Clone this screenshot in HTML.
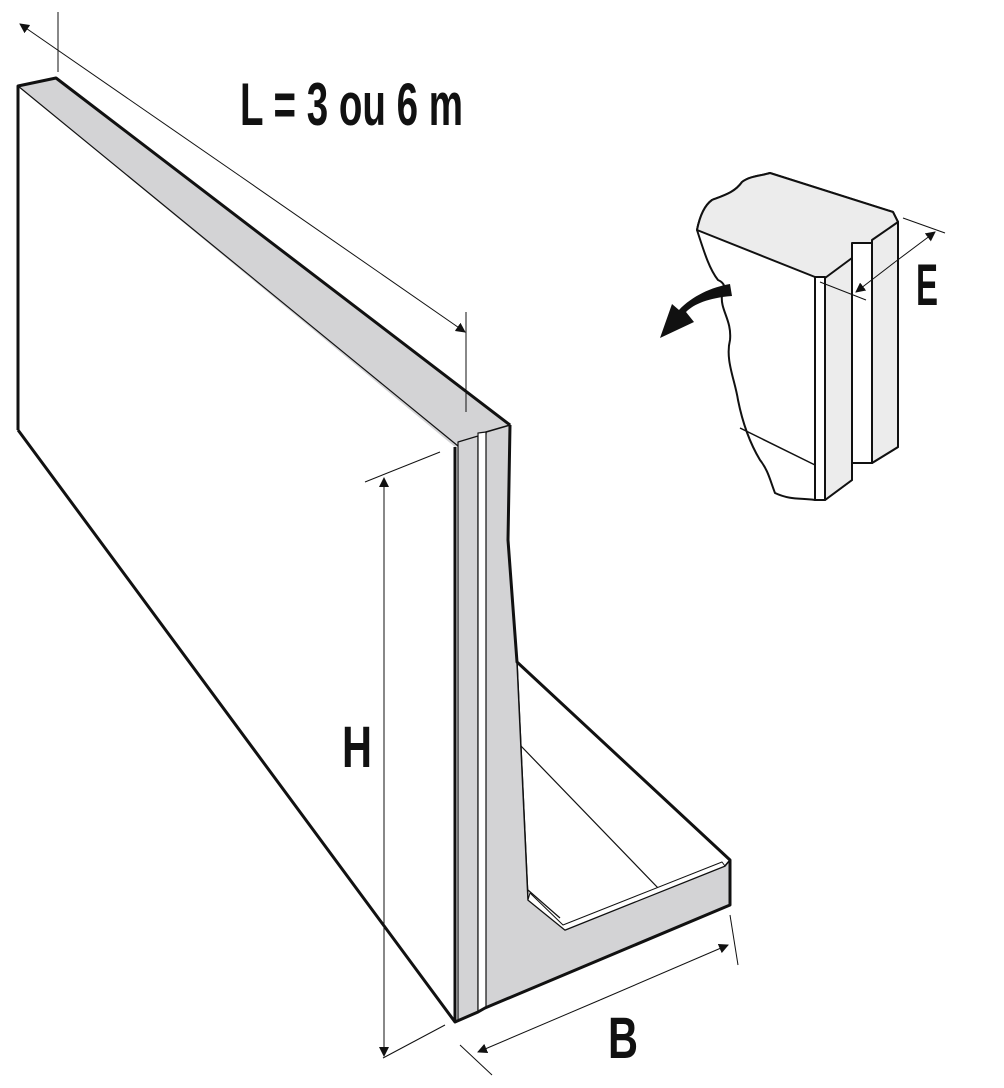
<!DOCTYPE html>
<html><head><meta charset="utf-8"><style>
html,body{margin:0;padding:0;background:#fff;}
svg{display:block;}
text{font-family:"Liberation Sans Narrow","Liberation Sans",sans-serif;fill:#111;font-weight:bold;}
</style></head><body>
<svg width="1004" height="1088" viewBox="0 0 1004 1088" xmlns="http://www.w3.org/2000/svg">
<defs>
<marker id="a" markerWidth="10" markerHeight="10" refX="9" refY="5" orient="auto" markerUnits="userSpaceOnUse" viewBox="0 0 10 10"><path d="M0,0 L10,5 L0,10 z" fill="#111"/></marker>
</defs>
<g stroke="#111" stroke-linejoin="round">
<!-- front face -->
<polygon points="18,86 455,447 455,1022 18,430" fill="#fff" stroke="none"/>
<!-- top strip -->
<polygon points="18,86 56,78 510,425 488,432 478,432 476,438 462,445 455,447" fill="#d3d3d5" stroke="none"/>
<line x1="18" y1="86" x2="458" y2="446" stroke-width="1.2"/>
<!-- inner base region -->
<polygon points="517,662 730,860 725,866 565,930 528,900" fill="#fff" stroke-width="1.5"/>
<line x1="520" y1="745" x2="660" y2="890" stroke-width="1.2"/>
<polyline points="528,890 560,918" fill="none" stroke-width="1.2"/>
<!-- stem & base gray -->
<polygon points="486,432 510,425 508,540 517,662 528,900 565,930 725,866 730,860 730,905 485,1008 485,445" fill="#d3d3d5" stroke-width="1.5"/>
<polygon points="528,900 565,930 725,866 722,862 563,925 530,893" fill="#fff" stroke-width="1"/>
<!-- vertical strips -->
<polygon points="458,442 478,436 478,1012 458,1020" fill="#d3d3d5" stroke-width="1.2"/>
<polygon points="478,433 486,432 486,1008 478,1012" fill="#fff" stroke-width="1.2"/>
<!-- thick outlines -->
<polyline points="18,430 18,86 56,78 510,425" fill="none" stroke-width="3"/>
<line x1="455" y1="447" x2="455" y2="1022" stroke-width="3"/>
<polyline points="510,425 508,540 517,662 730,860 730,905 485,1008 478,1012 455,1022 18,430" fill="none" stroke-width="3"/>
</g>
<!-- dimension lines -->
<g stroke="#111" stroke-width="1" fill="none">
<line x1="58" y1="12" x2="58" y2="72"/>
<line x1="466" y1="312" x2="466" y2="412"/>
<line x1="240" y1="176" x2="465" y2="332" marker-end="url(#a)"/>
<line x1="240" y1="176" x2="20" y2="24" marker-end="url(#a)"/>
<line x1="365" y1="482" x2="440" y2="452"/>
<line x1="383" y1="1058" x2="445" y2="1025"/>
<line x1="384" y1="700" x2="384" y2="478" marker-end="url(#a)"/>
<line x1="384" y1="700" x2="384" y2="1056" marker-end="url(#a)"/>
<line x1="460" y1="1045" x2="492" y2="1075"/>
<line x1="730" y1="915" x2="738" y2="965"/>
<line x1="600" y1="1000" x2="478" y2="1052" marker-end="url(#a)"/>
<line x1="600" y1="1000" x2="728" y2="945" marker-end="url(#a)"/>
</g>
<text x="240" y="125" font-size="60" textLength="223" lengthAdjust="spacingAndGlyphs">L = 3 ou 6 m</text>
<text x="342" y="767" font-size="58" textLength="30" lengthAdjust="spacingAndGlyphs">H</text>
<text x="608" y="1058" font-size="58" textLength="30" lengthAdjust="spacingAndGlyphs">B</text>
<!-- detail -->
<g stroke="#111" stroke-width="2" stroke-linejoin="round">
<path d="M697,230 C700,215 705,205 712,200 C725,195 735,192 742,182 C750,176 760,176 770,173 L893,212 L898,222 L898,447 L872,463 L852,463 L852,480 L825,500 L815,500 C800,498 790,500 775,493 C770,480 768,470 760,460 C748,440 742,420 738,400 C735,380 725,360 730,340 C732,320 720,310 722,295 C726,288 725,283 718,280 C710,270 705,255 697,230 Z" fill="#fff"/>
<polygon points="697,230 C700,215" fill="none" stroke="none"/>
<path d="M697,230 C700,215 705,205 712,200 C725,195 735,192 742,182 C750,176 760,176 770,173 L893,212 L898,222 L880,238 L828,278 L815,277 Z" fill="#ececec"/>
<polygon points="825,278 852,258 852,480 825,500" fill="#ececec"/>
<polygon points="872,240 898,222 898,447 872,463" fill="#ececec"/>
<rect x="852" y="243" width="20" height="220" fill="#fff"/>
<rect x="815" y="277" width="10" height="223" fill="#fff"/>
<path d="M740,428 L815,465" fill="none" stroke-width="1.5"/>
</g>
<path d="M732,296 C708,298 694,304 686,312 L694,322 L660,338 L672,304 L679,310 C692,296 712,287 730,284 Z" fill="#111"/>
<g stroke="#111" stroke-width="1" fill="none">
<line x1="903" y1="218" x2="945" y2="233"/>
<line x1="820" y1="282" x2="866" y2="300"/>
<line x1="895" y1="262" x2="935" y2="232" marker-end="url(#a)"/>
<line x1="895" y1="262" x2="856" y2="292" marker-end="url(#a)"/>
</g>
<text x="916" y="305" font-size="58" textLength="22" lengthAdjust="spacingAndGlyphs">E</text>
</svg>
</body></html>
